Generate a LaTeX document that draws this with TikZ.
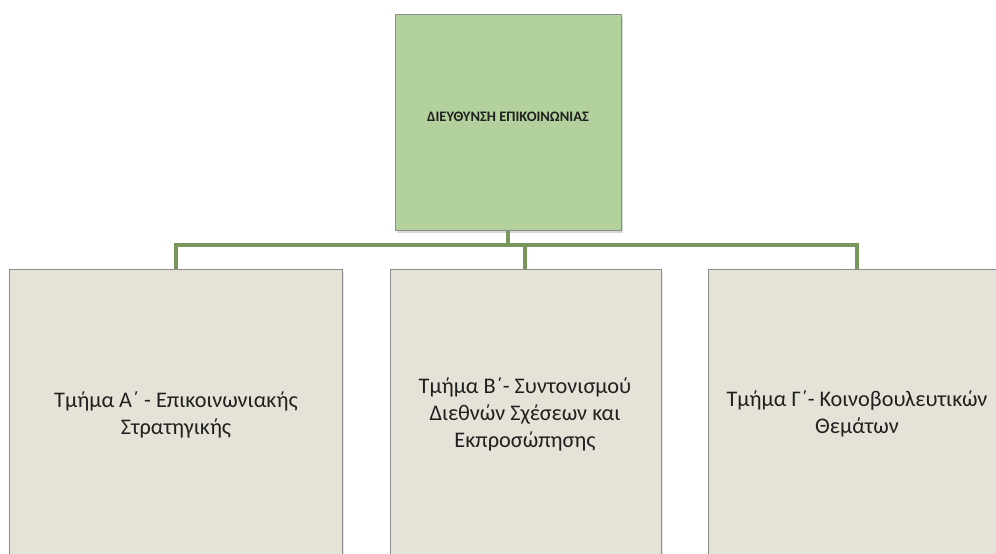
\documentclass[tikz,border=0pt]{standalone}
\usepackage{fontspec}
\setmainfont{Carlito}
\usetikzlibrary{shadows}
\definecolor{topfill}{HTML}{B3D19D}
\definecolor{subfill}{HTML}{E5E3D7}
\definecolor{boxline}{HTML}{8C8C8C}
\definecolor{linkgreen}{HTML}{77985A}
\definecolor{txt}{HTML}{202020}
\tikzset{
  topbox/.style={draw=boxline, line width=1pt, fill=topfill, minimum width=226pt, minimum height=216pt,
    inner sep=0pt,
    drop shadow={shadow xshift=2pt, shadow yshift=-3pt, opacity=0.3}},
  subbox/.style={draw=boxline, line width=1pt, fill=subfill, inner sep=0pt,
    drop shadow={shadow xshift=2pt, shadow yshift=-2pt, opacity=0.2}},
  toplabel/.style={text=txt, font=\bfseries\fontsize{14.5}{16}\selectfont},
  sublabel/.style={text=txt, align=center, font=\fontsize{22.3}{27}\selectfont},
  link/.style={draw=linkgreen, line width=4pt}
}
\begin{document}
\begin{tikzpicture}[x=1pt, y=-1pt]
\useasboundingbox (0,0) rectangle (996,554);
\clip (0,0) rectangle (996,554);
\fill[white] (0,0) rectangle (996,554);
% boxes
\node[topbox] (top) at (508,122) {};
\node[toplabel] (toptext) at (508,117) {ΔΙΕΥΘΥΝΣΗ ΕΠΙΚΟΙΝΩΝΙΑΣ};
\node[subbox, minimum width=333pt, minimum height=300pt, anchor=north] (a) at (175.5,269) {};
\node[subbox, minimum width=271pt, minimum height=300pt, anchor=north] (b) at (525.5,269) {};
\node[subbox, minimum width=298pt, minimum height=300pt, anchor=north] (c) at (857,269) {};
\node[sublabel] (atext) at (176,415) {Τμήμα A΄ - Επικοινωνιακής\\Στρατηγικής};
\node[sublabel] (btext) at (525,414) {Τμήμα B΄- Συντονισμού\\Διεθνών Σχέσεων και\\Εκπροσώπησης};
\node[sublabel] (ctext) at (857,414) {Τμήμα Γ΄- Κοινοβουλευτικών\\Θεμάτων};
% connectors
\coordinate (j) at (508,245);
\coordinate (ja) at (176,245);
\coordinate (jb) at (525,245);
\coordinate (jc) at (857,245);
\draw[link] (top.south -| j) -- (j);
\draw[link] (a.north -| ja) -- (ja) -- (jc) -- (c.north -| jc);
\draw[link] (jb) -- (b.north -| jb);
\end{tikzpicture}
\end{document}
